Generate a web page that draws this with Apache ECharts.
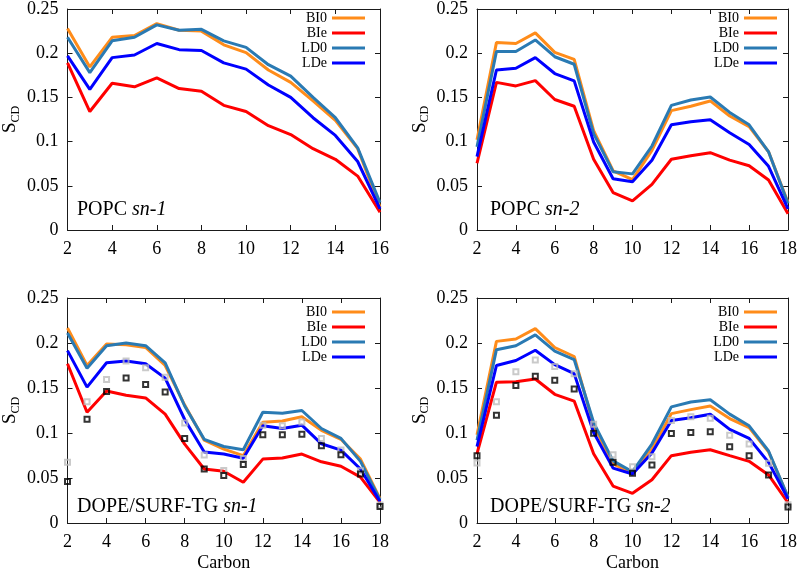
<!DOCTYPE html>
<html>
<head>
<meta charset="utf-8">
<script src="https://cdn.jsdelivr.net/npm/echarts@6/dist/echarts.min.js"></script>
<style>
html,body{margin:0;padding:0;background:#fff;}
#chart{width:800px;height:573px;}
</style>
</head>
<body>
<div id="chart"></div>
<script>
// ---- data ----
const carbons16 = [2,3,4,5,6,7,8,9,10,11,12,13,14,15,16];
const carbons18 = [2,3,4,5,6,7,8,9,10,11,12,13,14,15,16,17,18];
const seriesNames = ['BI0','BIe','LD0','LDe'];
const xTicks16 = [2,4,6,8,10,12,14,16];
const xTicks18 = [2,4,6,8,10,12,14,16,18];
const yTicks = [0,0.05,0.1,0.15,0.2,0.25];

// POPC sn-1
const popcSn1_BI0 = [0.228,0.1845,0.218,0.220,0.2335,0.226,0.225,0.2095,0.2007,0.181,0.167,0.146,0.124,0.092,0.026];
const popcSn1_BIe = [0.189,0.134,0.166,0.162,0.172,0.160,0.157,0.141,0.134,0.118,0.108,0.092,0.080,0.061,0.020];
const popcSn1_LD0 = [0.218,0.178,0.214,0.218,0.232,0.226,0.227,0.214,0.2066,0.187,0.174,0.150,0.127,0.093,0.031];
const popcSn1_LDe = [0.197,0.159,0.195,0.198,0.211,0.204,0.203,0.189,0.182,0.164,0.150,0.127,0.107,0.0775,0.024];

// POPC sn-2
const popcSn2_BI0 = [0.102,0.212,0.211,0.223,0.201,0.193,0.1125,0.067,0.057,0.090,0.135,0.140,0.146,0.129,0.117,0.0885,0.031];
const popcSn2_BIe = [0.0755,0.167,0.163,0.169,0.1476,0.140,0.080,0.0424,0.033,0.0517,0.080,0.084,0.0875,0.079,0.0727,0.0565,0.0185];
const popcSn2_LD0 = [0.094,0.202,0.202,0.215,0.196,0.1875,0.109,0.066,0.0635,0.095,0.141,0.147,0.1505,0.133,0.119,0.0885,0.030];
const popcSn2_LDe = [0.083,0.181,0.183,0.195,0.177,0.1687,0.0996,0.058,0.0546,0.079,0.119,0.1225,0.1247,0.110,0.0967,0.072,0.024];

// DOPE/SURF-TG sn-1
const dopeSn1_BI0 = [0.2166,0.175,0.199,0.198,0.195,0.175,0.131,0.092,0.082,0.0748,0.112,0.1134,0.118,0.103,0.093,0.071,0.027];
const dopeSn1_BIe = [0.177,0.123,0.1466,0.142,0.139,0.121,0.0877,0.060,0.0575,0.0453,0.071,0.0722,0.0766,0.068,0.063,0.051,0.023];
const dopeSn1_LD0 = [0.211,0.172,0.197,0.200,0.197,0.178,0.130,0.093,0.085,0.0814,0.123,0.122,0.125,0.105,0.094,0.0685,0.026];
const dopeSn1_LDe = [0.1915,0.151,0.178,0.180,0.177,0.161,0.115,0.079,0.0766,0.072,0.108,0.105,0.1087,0.088,0.081,0.060,0.024];
const dopeSn1_grey = [0.0674,0.1348,0.1595,0.180,0.1724,0.162,0.111,0.0755,0.0582,0.0718,0.1087,0.108,0.1123,0.094,0.081,0.058,0.020];
const dopeSn1_black = [0.046,0.1153,0.146,0.161,0.154,0.1455,0.094,0.060,0.0527,0.065,0.098,0.098,0.0987,0.0858,0.0759,0.0545,0.0184];

// DOPE/SURF-TG sn-2
const dopeSn2_BI0 = [0.098,0.2018,0.2044,0.216,0.195,0.185,0.1087,0.0656,0.055,0.082,0.1215,0.126,0.130,0.116,0.106,0.079,0.0287];
const dopeSn2_BIe = [0.077,0.1565,0.157,0.160,0.143,0.1355,0.077,0.041,0.033,0.048,0.0748,0.0785,0.0814,0.0748,0.0685,0.0534,0.0225];
const dopeSn2_LD0 = [0.092,0.1926,0.197,0.209,0.191,0.1816,0.1116,0.069,0.057,0.0877,0.129,0.1344,0.137,0.121,0.108,0.080,0.0287];
const dopeSn2_LDe = [0.085,0.175,0.1805,0.192,0.176,0.166,0.1005,0.061,0.0545,0.0777,0.114,0.117,0.1208,0.104,0.094,0.0674,0.0269];
const dopeSn2_grey = [0.0667,0.1348,0.168,0.181,0.174,0.1657,0.1098,0.0759,0.0626,0.0737,0.114,0.118,0.1164,0.0976,0.0877,0.0663,0.0203];
const dopeSn2_black = [0.0748,0.1197,0.1529,0.163,0.1587,0.149,0.0998,0.0674,0.0552,0.0645,0.0995,0.1005,0.1013,0.0847,0.0748,0.0534,0.0177];

const panelLabels = [['POPC ','sn-1'],['POPC ','sn-2'],['DOPE/SURF-TG ','sn-1'],['DOPE/SURF-TG ','sn-2']];

// ---- styling ----
const SERIF = '"Liberation Serif","DejaVu Serif",serif';
const COLORS = {BI0:'#ff8c1a', BIe:'#ff0000', LD0:'#2a7ab3', LDe:'#0000ff'};
const FRAME = '#1a1a1a';

const panels = [
  {x: carbons16, max:16, lines:[popcSn1_BI0,popcSn1_BIe,popcSn1_LD0,popcSn1_LDe], grey:null, black:null},
  {x: carbons18, max:18, lines:[popcSn2_BI0,popcSn2_BIe,popcSn2_LD0,popcSn2_LDe], grey:null, black:null},
  {x: carbons18, max:18, lines:[dopeSn1_BI0,dopeSn1_BIe,dopeSn1_LD0,dopeSn1_LDe], grey:dopeSn1_grey, black:dopeSn1_black},
  {x: carbons18, max:18, lines:[dopeSn2_BI0,dopeSn2_BIe,dopeSn2_LD0,dopeSn2_LDe], grey:dopeSn2_grey, black:dopeSn2_black}
];

const grids = [
  {left:64, top:4, width:316, height:226},
  {left:477, top:4, width:315, height:226},
  {left:64, top:298, width:316, height:226},
  {left:477, top:298, width:315, height:226}
];

const zip = (xs, ys) => xs.map((x,i)=>[x, ys[i]]);

const axisLine = {show:true, onZero:false, lineStyle:{color:FRAME, width:1}};
const axisTick = {show:true, inside:true, length:5, lineStyle:{color:FRAME, width:1}};

const xAxis = [], yAxis = [], series = [], legend = [], title = [];
grids.forEach((g, gi) => {
  const p = panels[gi];
  const isBottom = gi >= 2;
  xAxis.push({
    type:'value', gridIndex:gi, min:2, max:p.max, interval:2, position:'bottom',
    axisLine, axisTick, splitLine:{show:false},
    axisLabel:{color:'#000', fontFamily:SERIF, fontSize:18, margin:10},
    name: isBottom ? 'Carbon' : '', nameLocation:'middle', nameGap:31,
    nameTextStyle:{color:'#000', fontFamily:SERIF, fontSize:18}
  });
  xAxis.push({
    type:'value', gridIndex:gi, min:2, max:p.max, interval:2, position:'top',
    axisLine, axisTick, splitLine:{show:false}, axisLabel:{show:false}
  });
  yAxis.push({
    type:'value', gridIndex:gi, min:0, max:0.25, interval:0.05, position:'left',
    axisLine, axisTick, splitLine:{show:false},
    axisLabel:{color:'#000', fontFamily:SERIF, fontSize:18, margin:9},
    name:'{s|S}{c|CD}', nameLocation:'middle', nameGap:46,
    nameTextStyle:{rich:{
      s:{fontFamily:SERIF, fontSize:19, color:'#000', lineHeight:22, verticalAlign:'middle'},
      c:{fontFamily:SERIF, fontSize:12, color:'#000', lineHeight:12, verticalAlign:'bottom'}
    }}
  });
  yAxis.push({
    type:'value', gridIndex:gi, min:0, max:0.25, interval:0.05, position:'right',
    axisLine, axisTick, splitLine:{show:false}, axisLabel:{show:false}
  });
  seriesNames.forEach((n, si) => {
    series.push({
      type:'line', name:n, xAxisIndex:gi*2, yAxisIndex:gi*2,
      data: zip(p.x, p.lines[si]), showSymbol:false, symbol:'none',
      lineStyle:{color:COLORS[n], width:3}, itemStyle:{color:COLORS[n]},
      z: 2 + si, animation:false
    });
  });
  if (p.grey) {
    series.push({
      type:'scatter', name:'exp-grey', xAxisIndex:gi*2, yAxisIndex:gi*2,
      data: zip(p.x, p.grey), symbol:'rect', symbolSize:5, clip:false,
      itemStyle:{color:'rgba(0,0,0,0)', borderColor:'#bdbdbd', borderWidth:2},
      z:10, animation:false
    });
    series.push({
      type:'scatter', name:'exp-black', xAxisIndex:gi*2, yAxisIndex:gi*2,
      data: zip(p.x, p.black), symbol:'rect', symbolSize:5, clip:false,
      itemStyle:{color:'rgba(0,0,0,0)', borderColor:'#000', borderWidth:2},
      z:11, animation:false
    });
  }
  const legRight = (gi % 2 === 0) ? 435 : 23;
  const legTop = isBottom ? 305 : 11;
  legend.push({
    orient:'vertical', right:legRight, top:legTop, align:'right', padding:0,
    icon:'rect', itemWidth:33, itemHeight:3, itemGap:1, selectedMode:false,
    textStyle:{fontFamily:SERIF, fontSize:14, color:'#000', lineHeight:14},
    data: seriesNames
  });
  const lab = panelLabels[gi];
  title.push({
    text: '{n|' + lab[0] + '}{i|' + lab[1] + '}',
    left: g.left + 13, top: isBottom ? 497 : 200, padding:0,
    textStyle:{fontWeight:'normal', rich:{
      n:{fontFamily:SERIF, fontSize:20, fontWeight:'normal', color:'#000'},
      i:{fontFamily:SERIF, fontSize:20, fontWeight:'normal', fontStyle:'italic', color:'#000'}
    }}
  });
});

const chart = echarts.init(document.getElementById('chart'), null, {renderer:'canvas'});
chart.setOption({
  animation:false,
  backgroundColor:'#fff',
  grid: grids,
  xAxis, yAxis, series, legend, title
});
</script>
</body>
</html>
